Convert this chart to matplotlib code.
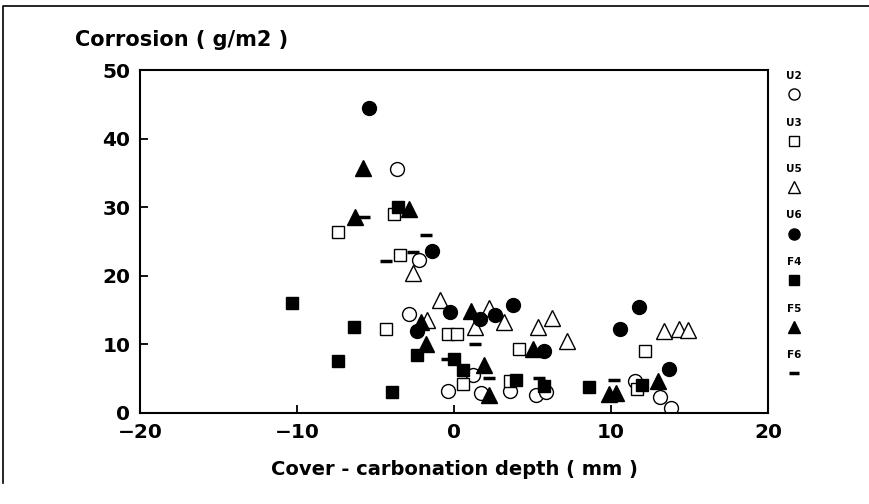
import matplotlib.pyplot as plt
from matplotlib.lines import Line2D

plt.rcParams['font.family'] = ['DejaVu Sans']
plt.rcParams['font.weight'] = 'bold'

# Значення: x = покриття - глибина карбонізації (мм), y = корозія (г/м2)
u2_x = [-3.64, -2.25, -2.85, 1.22, -0.4, 1.7, 3.59, 5.23, 5.87, 11.5, 13.15, 13.8]
u2_y = [35.5, 22.3, 14.4, 5.5, 3.2, 2.9, 3.2, 2.6, 3.1, 4.7, 2.4, 0.8]

u3_x = [-3.81, -7.42, -3.44, -4.34, -0.37, 0.21, 0.58, 3.59, 4.17, 12.18, 11.67]
u3_y = [29.0, 26.4, 23.0, 12.2, 11.5, 11.5, 4.2, 4.6, 9.4, 9.1, 3.5]

u5_x = [-2.61, -0.87, -1.72, 1.34, 2.25, 3.17, 5.36, 6.27, 7.2, 13.4, 14.3, 14.9]
u5_y = [20.4, 16.4, 13.6, 12.5, 15.3, 13.2, 12.6, 13.9, 10.5, 11.9, 12.3, 12.1]

u6_x = [-5.44, -1.42, -0.26, -2.36, 1.68, 2.63, 3.74, 5.74, 10.6, 11.76, 13.7]
u6_y = [44.4, 23.6, 14.7, 11.9, 13.7, 14.3, 15.7, 9.1, 12.2, 15.4, 6.4]

f4_x = [-3.55, -10.35, -6.36, -7.38, -2.34, 0.0, 0.58, -3.97, 3.95, 5.76, 8.63, 12.0]
f4_y = [30.1, 16.0, 12.5, 7.6, 8.5, 7.8, 6.3, 3.1, 4.8, 3.9, 3.8, 4.1]

f5_x = [-5.82, -2.89, -6.31, -2.12, 1.06, -1.76, 1.93, 2.25, 5.02, 9.9, 10.3, 13.0]
f5_y = [35.7, 29.7, 28.6, 13.2, 14.9, 10.0, 7.0, 2.6, 9.4, 2.7, 2.9, 4.6]

f6_x = [-5.72, -1.79, -2.63, -4.34, 1.32, -0.42, 2.21, 5.44, 10.2]
f6_y = [28.6, 25.9, 23.4, 22.2, 10.0, 7.9, 5.1, 5.1, 4.75]

labels = ["U2", "U3", "U5", "U6", "F4", "F5", "F6"]
series = [(u2_x, u2_y), (u3_x, u3_y), (u5_x, u5_y), (u6_x, u6_y),
          (f4_x, f4_y), (f5_x, f5_y), (f6_x, f6_y)]

styles = [
    dict(marker="o", ms=10, mfc="white", mec="black", mew=1.0),
    dict(marker="s", ms=9, mfc="white", mec="black", mew=1.0),
    dict(marker="^", ms=11, mfc="white", mec="black", mew=1.0),
    dict(marker="o", ms=10, mfc="black", mec="black", mew=1.0),
    dict(marker="s", ms=9, mfc="black", mec="black", mew=1.0),
    dict(marker="^", ms=11, mfc="black", mec="black", mew=1.0),
    dict(marker="_", ms=9, mfc="black", mec="black", mew=2.5),
]

fig = plt.figure(figsize=(8.69, 5.04), dpi=100)
ax = fig.add_axes([140 / 869, 1 - 413 / 504, 628 / 869, 343 / 504])

for (xs, ys), st in zip(series, styles):
    ax.plot(xs, ys, linestyle="none", **st)

ax.set_xlim(-20, 20)
ax.set_ylim(0, 50)
ax.set_xticks([-20, -10, 0, 10, 20])
ax.set_yticks([0, 10, 20, 30, 40, 50])
ax.tick_params(direction="in", length=6, width=1.3, labelsize=14.5)
ax.tick_params(axis="x", pad=7)
ax.tick_params(axis="y", pad=7)
for lab in ax.get_xticklabels() + ax.get_yticklabels():
    lab.set_fontweight("bold")
for sp in ax.spines.values():
    sp.set_linewidth(1.5)

ax.set_xlabel("Cover - carbonation depth ( mm )", fontsize=14, fontweight="bold", labelpad=13)
fig.text(75 / 869, 1 - 40 / 504, "Corrosion ( g/m2 )", fontsize=15, fontweight="bold",
         ha="left", va="center")

# Легенда праворуч: підпис над маркером
leg_x = 794 / 869
for i, (lab, st) in enumerate(zip(labels, styles)):
    ty = 1 - (76 + 46.5 * i) / 504
    my = 1 - (94 + 46.5 * i) / 504
    fig.text(leg_x, ty, lab, fontsize=7.5, fontweight="bold", ha="center", va="center")
    leg_st = dict(st)
    leg_st["ms"] = st["ms"] * 0.8
    fig.add_artist(Line2D([leg_x], [my], transform=fig.transFigure, linestyle="none", **leg_st))

# Рамка сторінки (верх і лівий край)
fig.add_artist(Line2D([3 / 869, 3 / 869, 1.0], [1 - 483 / 504, 1 - 6 / 504, 1 - 6 / 504],
                      transform=fig.transFigure, color="black", lw=1.2))

fig.savefig("out.png", dpi=100)
